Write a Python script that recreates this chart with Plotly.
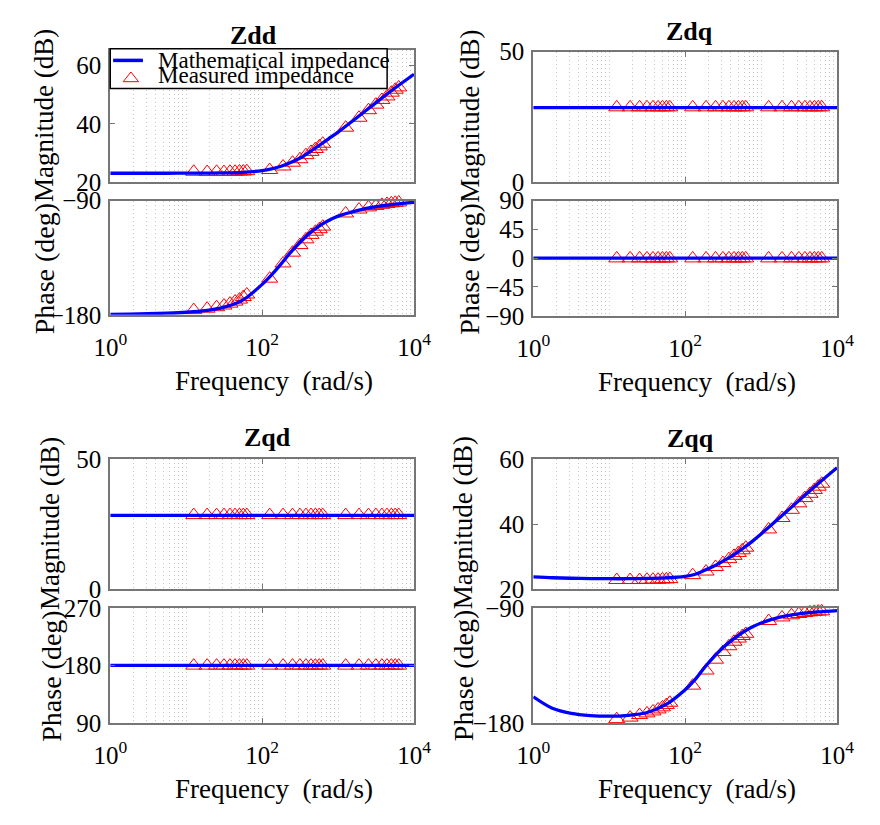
import plotly.graph_objects as go

W, H = 880, 825
FONT = "Liberation Serif, Times New Roman, serif"

# ---------------- data ----------------
# frequency samples for the mathematical (model) curves, rad/s
w_line = [1, 1.78, 3.16, 5.62, 10, 17.8, 31.6, 56.2, 100, 133, 178, 237, 316,
          422, 562, 750, 1000, 1778, 3162, 5623, 10000]
w_flat = [1, 10000]
# measured frequencies, rad/s
w_meas = [12.57, 18.85, 25.13, 31.42, 37.70, 43.98, 50.27, 56.55, 62.83,
          125.7, 188.5, 251.3, 314.2, 377.0, 439.8, 502.7, 565.5, 628.3,
          1257, 1885, 2513, 3142, 3770, 4398, 5027, 5655, 6283]

# Zdd
zdd_mag_line = [23.1, 23.1, 23.1, 23.1, 23.12, 23.14, 23.2, 23.41, 24.0, 24.58, 25.47,
                26.75, 28.3, 30.4, 32.6, 34.9, 37.2, 42.2, 47.3, 52.3, 57.0]
zdd_ph_line = [-179.7, -179.5, -179.2, -178.7, -178.0, -176.8, -174.0, -168.2, -156.0,
               -148.5, -139.8, -130.8, -122.8, -115.6, -110.0, -105.6, -102.2, -97.8,
               -94.7, -92.7, -91.3]
zdd_mag_meas = [23.6, 23.5, 23.6, 23.5, 23.6, 23.6, 23.7, 23.7, 23.8,
                24.2, 25.4, 26.7, 27.9, 29.3, 30.4, 31.4, 32.3, 33.2,
                38.7, 42.1, 44.7, 46.6, 48.2, 49.4, 50.7, 51.7, 52.5]
zdd_ph_meas = [-176.3, -175.2, -174.0, -172.7, -171.2, -169.6, -168.0, -166.0, -164.0,
               -151.5, -139.5, -131.0, -125.0, -120.5, -117.0, -114.5, -112.5, -110.5,
               -100.1, -97.0, -95.3, -94.2, -93.3, -92.6, -92.1, -91.7, -91.4]

# Zdq
zdq_mag_line = [28.6, 28.6]
zdq_ph_line = [0, 0]
zdq_mag_meas = [28.7, 28.7, 28.7, 28.7, 28.7, 28.7, 28.7, 28.7, 28.7,
                28.7, 28.7, 28.7, 28.7, 28.7, 28.7, 28.7, 28.7, 28.7,
                28.7, 28.7, 28.7, 28.7, 28.7, 28.7, 28.7, 28.7, 28.7]
zdq_ph_meas = [-0.3, -0.3, -0.3, -0.3, -0.3, -0.3, -0.3, -0.3, -0.3,
               -0.3, -0.3, -0.3, -0.3, -0.3, -0.3, -0.3, -0.3, -0.3,
               -0.3, -0.3, -0.3, -0.3, -0.3, -0.3, -0.3, -0.3, -0.3]

# Zqd
zqd_mag_line = [28.4, 28.4]
zqd_ph_line = [180, 180]
zqd_mag_meas = [28.5, 28.5, 28.5, 28.5, 28.5, 28.5, 28.5, 28.5, 28.5,
                28.5, 28.5, 28.5, 28.5, 28.5, 28.5, 28.5, 28.5, 28.5,
                28.5, 28.5, 28.5, 28.5, 28.5, 28.5, 28.5, 28.5, 28.5]
zqd_ph_meas = [179.7, 179.7, 179.7, 179.7, 179.7, 179.7, 179.7, 179.7, 179.7,
               179.7, 179.7, 179.7, 179.7, 179.7, 179.7, 179.7, 179.7, 179.7,
               179.7, 179.7, 179.7, 179.7, 179.7, 179.7, 179.7, 179.7, 179.7]

# Zqq
zqq_mag_line = [23.85, 23.6, 23.45, 23.35, 23.3, 23.3, 23.4, 23.55, 24.0, 24.6, 25.8,
                27.1, 28.7, 30.4, 32.4, 34.6, 37.0, 42.1, 47.3, 52.4, 57.3]
zqq_ph_line = [-159.5, -168.5, -172.5, -174.2, -174.7, -174.0, -171.8, -165.5, -154.0,
               -146.5, -137.0, -128.5, -121.0, -114.8, -109.5, -105.2, -101.8, -97.2,
               -94.7, -93.2, -92.1]
zqq_mag_meas = [22.9, 22.9, 22.9, 23.0, 23.0, 23.0, 23.1, 23.1, 23.2,
                24.4, 25.5, 26.9, 28.1, 29.3, 30.3, 31.2, 32.0, 32.8,
                38.4, 41.9, 44.4, 46.4, 48.0, 49.3, 50.5, 51.5, 52.4]
zqq_ph_meas = [-177.0, -175.8, -173.8, -172.5, -171.0, -169.4, -167.8, -166.0, -164.2,
               -150.8, -139.0, -130.5, -124.5, -120.0, -116.5, -114.0, -112.0, -110.3,
               -100.3, -97.5, -95.8, -94.8, -94.0, -93.5, -93.1, -92.9, -92.7]

titles = ["Zdd", "Zdq", "Zqd", "Zqq"]
mag_ranges = [[20, 65.4], [0, 50], [0, 50], [20, 60]]
mag_ticks = [[20, 40, 60], [0, 50], [0, 50], [20, 40, 60]]
ph_ranges = [[-180, -90], [-90, 90], [90, 270], [-180, -90]]
ph_ticks = [[-180, -90], [-90, -45, 0, 45, 90], [90, 180, 270], [-180, -90]]
x_tickvals = [1, 100, 10000]
x_ticktext = ["10<sup>0</sup>", "10<sup>2</sup>", "10<sup>4</sup>"]
legend_names = ["Mathematical impedance", "Measured impedance"]

series = [
    (w_line, zdd_mag_line, zdd_ph_line, zdd_mag_meas, zdd_ph_meas),
    (w_flat, zdq_mag_line, zdq_ph_line, zdq_mag_meas, zdq_ph_meas),
    (w_flat, zqd_mag_line, zqd_ph_line, zqd_mag_meas, zqd_ph_meas),
    (w_line, zqq_mag_line, zqq_ph_line, zqq_mag_meas, zqq_ph_meas),
]

# ---------------- layout geometry (pixels) ----------------
# (x0, x1, mag_top, mag_bot, ph_top, ph_bot)
geom = [
    (97, 413, 38, 175, 194, 312),
    (537, 853, 40, 175, 194, 313),
    (97, 413, 461, 596, 615, 734),
    (537, 853, 461, 596, 615, 734),
]
title_pos = [(246, 23), (700, 19), (261, 439), (701, 440)]
ytitle_x = [28, 471, 35, 464]


def px(x):
    return x / W


def py(y):
    return 1 - y / H


minor_vals = [m * 10 ** k for k in range(4) for m in range(2, 11)]

fig = go.Figure()
layout = dict(
    width=W, height=H, margin=dict(l=0, r=0, t=0, b=0),
    paper_bgcolor="white", plot_bgcolor="white", showlegend=False,
    font=dict(family=FONT, color="black"),
)
annotations = []
shapes = []

FRAME = "#767676"
GRID = "#c4c4c4"
BLUE = "#0000ff"
RED = "#ff0000"
DOTS = "1px,3px"

for i in range(4):
    x0, x1, mt, mb, pt, pb = geom[i]
    w, mag_l, ph_l, mag_m, ph_m = series[i]
    for j, (top, bot, rng, tv, yl, ym) in enumerate([
        (mt, mb, mag_ranges[i], mag_ticks[i], mag_l, mag_m),
        (pt, pb, ph_ranges[i], ph_ticks[i], ph_l, ph_m),
    ]):
        k = 2 * i + j + 1
        xa = "xaxis" if k == 1 else f"xaxis{k}"
        ya = "yaxis" if k == 1 else f"yaxis{k}"
        xs = "x" if k == 1 else f"x{k}"
        ys = "y" if k == 1 else f"y{k}"
        layout[xa] = dict(
            type="log", range=[0, 4], domain=[px(x0), px(x1)], anchor=ys,
            tickmode="array", tickvals=x_tickvals, ticktext=x_ticktext,
            showticklabels=(j == 1), ticks="inside", ticklen=5, tickwidth=1,
            tickcolor=FRAME, showline=True, linecolor=FRAME, linewidth=2,
            mirror="ticks", showgrid=True, gridcolor=GRID, griddash=DOTS,
            gridwidth=1, zeroline=False,
            tickfont=dict(family=FONT, size=25, color="black"),
            ticklabelstandoff=9,
            minor=dict(tickvals=minor_vals, showgrid=True, gridcolor=GRID,
                       griddash=DOTS, gridwidth=1, ticks=""),
        )
        layout[ya] = dict(
            range=rng, domain=[py(bot), py(top)], anchor=xs,
            tickmode="array", tickvals=tv, ticks="inside", ticklen=5,
            tickwidth=1, tickcolor=FRAME, showline=True, linecolor=FRAME,
            linewidth=2, mirror="ticks", showgrid=False, zeroline=False,
            tickfont=dict(family=FONT, size=25, color="black"),
            ticklabelstandoff=2,
        )
        fig.add_trace(go.Scatter(
            x=w_meas, y=ym, xaxis=xs, yaxis=ys, mode="markers",
            name=legend_names[1],
            marker=dict(symbol="triangle-up-open", size=14, color=RED,
                        line=dict(width=1, color=RED)),
            cliponaxis=False,
        ))
        fig.add_trace(go.Scatter(
            x=w, y=yl, xaxis=xs, yaxis=ys, mode="lines", name=legend_names[0],
            line=dict(color=BLUE, width=3.3, shape="spline", smoothing=0.8),
        ))

    # subplot title
    tx, ty = title_pos[i]
    annotations.append(dict(
        text=f"<b>{titles[i]}</b>", x=px(tx), y=py(ty), xref="paper", yref="paper",
        xanchor="center", yanchor="middle", showarrow=False,
        font=dict(family=FONT, size=26, color="black")))
    # y titles
    annotations.append(dict(
        text="Magnitude (dB)", x=px(ytitle_x[i]), y=py((mt + mb) / 2 - 1),
        xref="paper", yref="paper", xanchor="center", yanchor="middle",
        textangle=-90, showarrow=False, font=dict(family=FONT, size=27, color="black")))
    annotations.append(dict(
        text="Phase (deg)", x=px(ytitle_x[i]), y=py((pt + pb) / 2 + 11),
        xref="paper", yref="paper", xanchor="center", yanchor="middle",
        textangle=-90, showarrow=False, font=dict(family=FONT, size=28, color="black")))
    # x title
    annotations.append(dict(
        text="Frequency  (rad/s)", x=px((x0 + x1) / 2 + 12), y=py(pb + 68),
        xref="paper", yref="paper", xanchor="center", yanchor="middle",
        showarrow=False, font=dict(family=FONT, size=27, color="black")))

# legend (drawn inside the Zdd magnitude panel)
shapes.append(dict(type="rect", xref="paper", yref="paper",
                   x0=px(97), x1=px(385), y0=py(78), y1=py(37),
                   fillcolor="white", line=dict(color="black", width=1.5), layer="above"))
shapes.append(dict(type="line", xref="paper", yref="paper",
                   x0=px(100), x1=px(131), y0=py(49), y1=py(49),
                   line=dict(color=BLUE, width=3.5), layer="above"))
shapes.append(dict(type="path", xref="paper", yref="paper",
                   path=f"M {px(110.5)},{py(71)} L {px(126.5)},{py(71)} L {px(118.5)},{py(61)} Z",
                   line=dict(color=RED, width=1), fillcolor="rgba(0,0,0,0)", layer="above"))
annotations.append(dict(
    text=legend_names[0], x=px(145), y=py(49), xref="paper", yref="paper",
    xanchor="left", yanchor="middle", showarrow=False,
    font=dict(family=FONT, size=23, color="black")))
annotations.append(dict(
    text=legend_names[1], x=px(145), y=py(65), xref="paper", yref="paper",
    xanchor="left", yanchor="middle", showarrow=False,
    font=dict(family=FONT, size=23, color="black")))

layout["annotations"] = annotations
layout["shapes"] = shapes
fig.update_layout(**layout)
fig.write_html("out.html")
